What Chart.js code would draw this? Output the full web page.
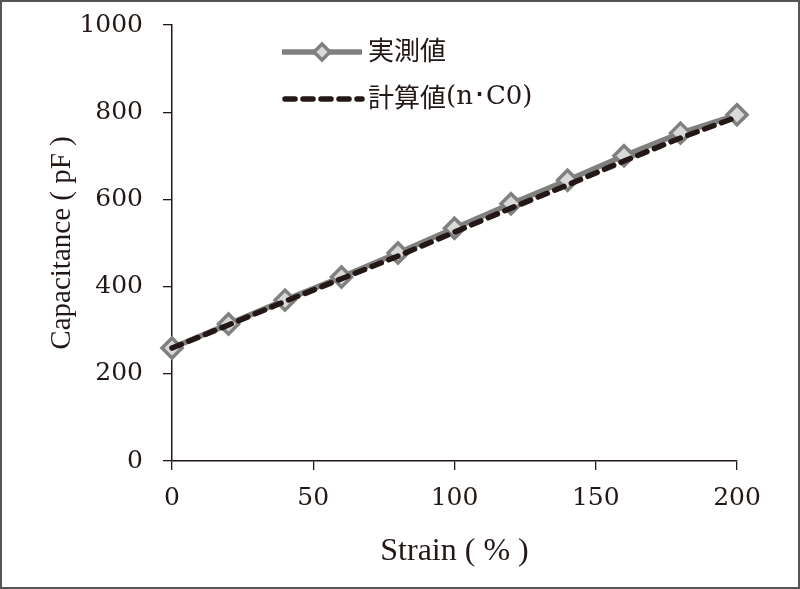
<!DOCTYPE html>
<html>
<head>
<meta charset="utf-8">
<script src="https://cdn.jsdelivr.net/npm/chart.js@4/dist/chart.umd.min.js"></script>
<style>
  html, body { margin: 0; padding: 0; background: #fff; }
  #wrap { width: 800px; height: 589px; }
</style>
</head>
<body>
<div id="wrap"><canvas id="c" width="800" height="589"></canvas></div>
<script>
// データ
const strain = [0, 20, 40, 60, 80, 100, 120, 140, 160, 180, 200];
const measured = [259, 314, 369, 422, 477, 534, 590, 644, 700, 752, 794];
const calculated = [259, 312, 366, 418, 470, 525, 580, 633, 688, 741, 789];
const seriesNames = ['実測値', '計算値(n･C0)'];
const xTicks = [0, 50, 100, 150, 200];
const yTicks = [0, 200, 400, 600, 800, 1000];

const INK = '#231815';
const GREY = '#808080';

function toPoints(xs, ys) {
  return xs.map((x, i) => ({ x: x, y: ys[i] }));
}

// 外枠と背景
const framePlugin = {
  id: 'frame',
  beforeDraw(chart) {
    const ctx = chart.ctx;
    ctx.save();
    ctx.fillStyle = '#fff';
    ctx.fillRect(0, 0, chart.width, chart.height);
    ctx.strokeStyle = '#555';
    ctx.lineWidth = 2;
    ctx.strokeRect(1, 1, chart.width - 2, chart.height - 2);
    ctx.restore();
  }
};

// 凡例（線＋マーカーの見本）
const legendPlugin = {
  id: 'lineLegend',
  afterDraw(chart) {
    const ctx = chart.ctx;
    const rows = [52, 99];
    const x0 = 282, x1 = 362, tx = 368;
    ctx.save();
    chart.data.datasets.forEach((ds, i) => {
      const y = rows[i];
      ctx.strokeStyle = ds.borderColor;
      ctx.lineWidth = ds.borderWidth;
      ctx.lineCap = ds.borderCapStyle || 'butt';
      ctx.setLineDash(ds.borderDash || []);
      ctx.beginPath();
      ctx.moveTo(x0 + (ds.borderDash ? 3 : 0), y);
      ctx.lineTo(x1, y);
      ctx.stroke();
      ctx.setLineDash([]);
      if (ds.pointRadius > 0) {
        ctx.fillStyle = ds.pointBackgroundColor;
        ctx.strokeStyle = ds.pointBorderColor;
        ctx.lineWidth = ds.pointBorderWidth;
        Chart.helpers.drawPoint(ctx, { pointStyle: 'rectRot', radius: 8, borderWidth: ds.pointBorderWidth }, (x0 + x1) / 2, y);
      }
      ctx.fillStyle = INK;
      ctx.textBaseline = 'middle';
      ctx.font = '26px "Noto Sans CJK JP"';
      const name = ds.label;
      const k = name.indexOf('(');
      if (k < 0) {
        ctx.fillText(name, tx, y - 2);
      } else {
        const head = name.slice(0, k);
        ctx.fillText(head, tx, y - 2);
        const w = ctx.measureText(head).width;
        ctx.font = '26px "DejaVu Serif"';
        ctx.fillText(name.slice(k), tx + w, y - 2);
      }
    });
    ctx.restore();
  }
};

new Chart(document.getElementById('c'), {
  type: 'line',
  data: {
    datasets: [
      {
        label: seriesNames[0],
        data: toPoints(strain, measured),
        borderColor: GREY,
        borderWidth: 5.5,
        pointStyle: 'rectRot',
        pointRadius: 10,
        pointBorderWidth: 3.5,
        pointBorderColor: GREY,
        pointBackgroundColor: '#d9d9d9',
        clip: false,
        order: 2
      },
      {
        label: seriesNames[1],
        data: toPoints(strain, calculated),
        borderColor: INK,
        borderWidth: 5.5,
        borderDash: [10, 8],
        borderCapStyle: 'round',
        pointRadius: 0,
        clip: false,
        order: 1
      }
    ]
  },
  options: {
    responsive: false,
    animation: false,
    layout: { padding: { left: 0, top: 25, right: 63, bottom: 0 } },
    plugins: {
      legend: { display: false },
      tooltip: { enabled: false }
    },
    scales: {
      x: {
        type: 'linear',
        min: 0,
        max: 200,
        afterBuildTicks(s) { s.ticks = xTicks.map(v => ({ value: v })); },
        afterFit(s) { s.height = 128; },
        ticks: { color: INK, font: { family: 'DejaVu Serif', size: 25 }, padding: 13, callback: v => String(v) },
        grid: { drawOnChartArea: false, drawTicks: true, tickLength: 9, color: INK, lineWidth: 1.3 },
        border: { color: INK, width: 1.5 },
        title: {
          display: true,
          text: 'Strain ( % )',
          color: INK,
          font: { family: 'Liberation Serif', size: 32 },
          padding: { top: 0, bottom: 18 }
        }
      },
      y: {
        min: 0,
        max: 1000,
        afterBuildTicks(s) { s.ticks = yTicks.map(v => ({ value: v })); },
        afterFit(s) { s.width = 172; s.paddingTop = 0; },
        ticks: { color: INK, font: { family: 'DejaVu Serif', size: 25 }, padding: 20, callback: v => String(v) },
        grid: { drawOnChartArea: false, drawTicks: true, tickLength: 9, color: INK, lineWidth: 1.3 },
        border: { color: INK, width: 1.5 },
        title: {
          display: true,
          text: 'Capacitance ( pF )',
          color: INK,
          font: { family: 'Liberation Serif', size: 29 },
          padding: { top: 45, bottom: 0 }
        }
      }
    }
  },
  plugins: [framePlugin, legendPlugin]
});
</script>
</body>
</html>
